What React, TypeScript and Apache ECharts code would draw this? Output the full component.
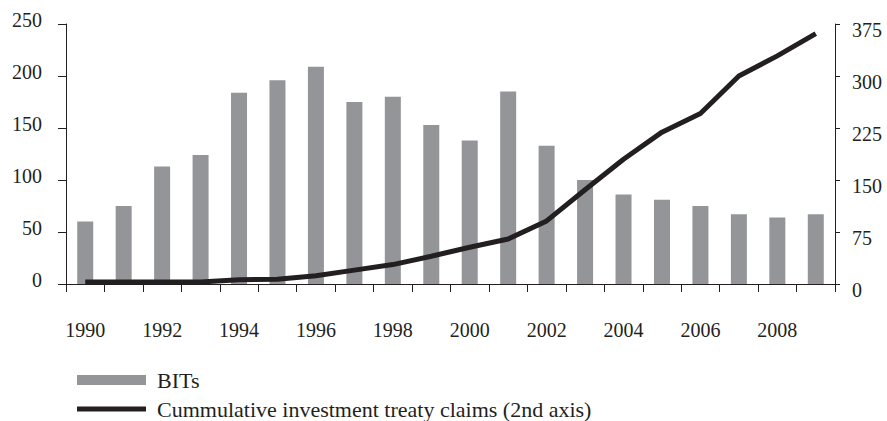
import React, { useEffect, useRef } from "react";
import * as echarts from "echarts";

const years = [
  "1990", "1991", "1992", "1993", "1994", "1995", "1996", "1997", "1998", "1999",
  "2000", "2001", "2002", "2003", "2004", "2005", "2006", "2007", "2008", "2009",
];
const bits = [60, 75, 113, 124, 184, 196, 209, 175, 180, 153, 138, 185, 133, 100, 86, 81, 75, 67, 64, 67];
const claims = [3, 3, 3, 3, 6, 7, 12, 20, 28, 40, 53, 65, 91, 136, 180, 219, 246, 300, 329, 361];

const leftTicks = { min: 0, max: 250, interval: 50 };
const rightTicks = { min: 0, max: 375, interval: 75 };

const FONT = "'Liberation Serif', 'Times New Roman', serif";
const INK = "#231f20";
const BAR = "#939598";

export default function App() {
  const ref = useRef<HTMLDivElement>(null);
  useEffect(() => {
    if (!ref.current) return;
    const chart = echarts.init(ref.current, undefined, { renderer: "svg" });
    chart.setOption({
      animation: false,
      backgroundColor: "#ffffff",
      grid: { left: 66, right: 52, top: 24, bottom: 137, containLabel: false },
      legend: [
        {
          left: 77,
          top: 369,
          padding: 0,
          orient: "vertical",
          itemWidth: 69,
          itemHeight: 10,
          selectedMode: false,
          data: [{ name: "BITs", icon: "rect" }],
          textStyle: { fontFamily: FONT, fontSize: 22, color: INK, padding: [0, 0, 0, 6] },
        },
        {
          left: 77,
          top: 398,
          padding: 0,
          orient: "vertical",
          itemWidth: 69,
          itemHeight: 5,
          selectedMode: false,
          data: [{ name: "Cummulative investment treaty claims (2nd axis)", icon: "rect" }],
          textStyle: { fontFamily: FONT, fontSize: 22, color: INK, padding: [0, 0, 0, 6] },
        },
      ],
      xAxis: {
        type: "category",
        data: years,
        boundaryGap: true,
        axisLine: { show: true, lineStyle: { color: INK, width: 1 } },
        axisTick: { show: true, interval: 0, length: 8, lineStyle: { color: INK } },
        axisLabel: { interval: 1, margin: 36, fontFamily: FONT, fontSize: 20, color: INK },
        splitLine: { show: false },
      },
      yAxis: [
        {
          type: "value",
          ...leftTicks,
          position: "left",
          axisLine: { show: true, lineStyle: { color: INK, width: 1 } },
          axisTick: { show: true, length: 8, lineStyle: { color: INK } },
          axisLabel: {
            margin: 24,
            fontFamily: FONT,
            fontSize: 20,
            color: INK,
            verticalAlign: "bottom",
            lineHeight: 8,
          },
          splitLine: { show: false },
        },
        {
          type: "value",
          ...rightTicks,
          position: "right",
          axisLine: { show: true, lineStyle: { color: INK, width: 1 } },
          axisTick: { show: true, length: 5, lineStyle: { color: INK } },
          axisLabel: {
            margin: 17,
            fontFamily: FONT,
            fontSize: 20,
            color: INK,
            verticalAlign: "top",
            lineHeight: 12,
          },
          splitLine: { show: false },
        },
      ],
      series: [
        {
          name: "BITs",
          type: "bar",
          yAxisIndex: 0,
          data: bits,
          barWidth: 16,
          itemStyle: { color: BAR },
        },
        {
          name: "Cummulative investment treaty claims (2nd axis)",
          type: "line",
          yAxisIndex: 1,
          data: claims,
          symbol: "none",
          showSymbol: false,
          lineStyle: { color: INK, width: 5 },
          itemStyle: { color: INK },
        },
      ],
    });
    return () => chart.dispose();
  }, []);
  return <div ref={ref} style={{ width: 887, height: 421, position: "absolute", left: 0, top: 0 }} />;
}
